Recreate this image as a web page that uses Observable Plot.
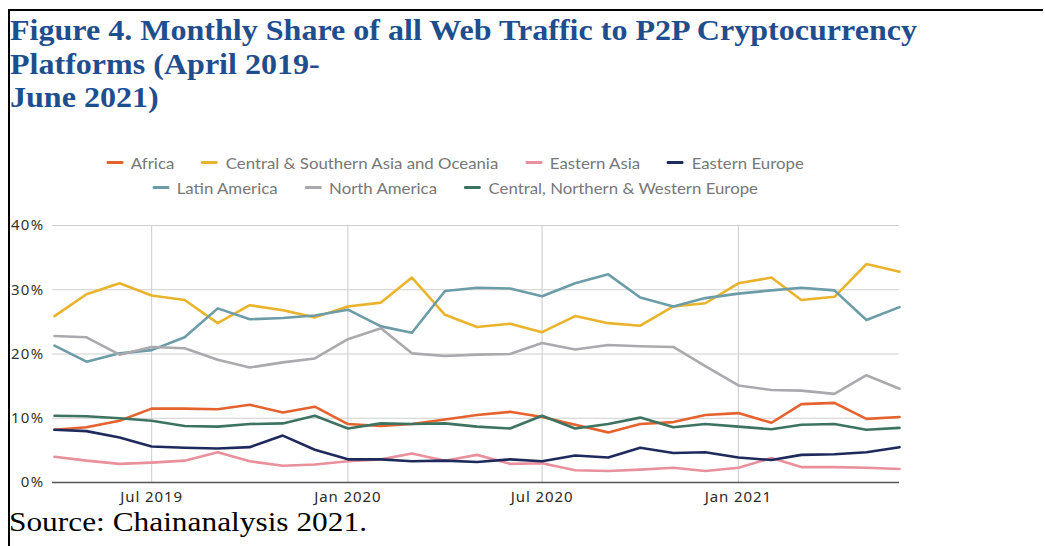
<!DOCTYPE html>
<html>
<head>
<meta charset="utf-8">
<script src="https://cdn.jsdelivr.net/npm/d3@7"></script>
<script src="https://cdn.jsdelivr.net/npm/@observablehq/plot@0.6"></script>
<style>
  html, body { margin: 0; padding: 0; background: #fff; }
  body { width: 1045px; height: 546px; position: relative; overflow: hidden; }
  #frame { position: absolute; left: 8px; top: 9px; right: 2px; bottom: -10px;
           border-top: 2px solid #000; border-left: 2px solid #000; }
  #title { position: absolute; left: 10px; top: 14px; margin: 0; white-space: nowrap;
           font-family: "Liberation Serif", "Times New Roman", serif; font-weight: bold;
           font-size: 29px; line-height: 33.5px; color: #1f4e8f;
           transform: scaleX(1.105); transform-origin: 0 0; }
  #legend { position: absolute; left: 0; top: 150px; width: 910px;
            font-family: Lato, "Noto Sans", sans-serif; font-size: 15px; color: #777; }
  .lrow { display: flex; justify-content: center; gap: 24px; height: 25px; align-items: center;
          transform: scaleX(1.12); transform-origin: 455px 50%; }
  .litem { display: flex; align-items: center; gap: 7px; white-space: nowrap; }
  .sw { width: 15px; height: 3px; border-radius: 1px; }
  #chart { position: absolute; left: 0; top: 200px; }
  #source { position: absolute; left: 9px; top: 506px; margin: 0; white-space: nowrap;
            font-family: "Liberation Serif", "Times New Roman", serif; font-size: 28px; color: #000;
            transform: scaleX(1.12); transform-origin: 0 0; }
</style>
</head>
<body>
<div id="frame"></div>
<div id="title">Figure 4. Monthly Share of all Web Traffic to P2P Cryptocurrency<br>Platforms (April 2019-<br>June 2021)</div>
<div id="legend"></div>
<div id="chart"></div>
<div id="source">Source: Chainanalysis 2021.</div>
<script>
const months = ["2019-04","2019-05","2019-06","2019-07","2019-08","2019-09","2019-10","2019-11","2019-12",
  "2020-01","2020-02","2020-03","2020-04","2020-05","2020-06","2020-07","2020-08","2020-09","2020-10","2020-11","2020-12",
  "2021-01","2021-02","2021-03","2021-04","2021-05","2021-06"];

const seriesNames = ["Africa", "Central & Southern Asia and Oceania", "Eastern Asia", "Eastern Europe",
  "Latin America", "North America", "Central, Northern & Western Europe"];
const seriesColors = ["#e4622d", "#eab32c", "#e8909c", "#1f2a5c", "#6b9ca7", "#a9a9ae", "#3d7361"];

const africa = [8.2, 8.6, 9.6, 11.5, 11.5, 11.4, 12.1, 10.9, 11.8, 9.1, 8.8, 9.1, 9.8, 10.5, 11.0, 10.2, 9.0, 7.8, 9.1, 9.4, 10.5, 10.8, 9.3, 12.2, 12.4, 9.9, 10.2];
const centralSouthernAsia = [25.9, 29.3, 31.0, 29.1, 28.4, 24.8, 27.6, 26.8, 25.7, 27.4, 28.0, 31.9, 26.1, 24.2, 24.7, 23.4, 25.9, 24.8, 24.4, 27.4, 27.9, 31.0, 31.9, 28.4, 28.9, 34.0, 32.8];
const easternAsia = [4.0, 3.4, 2.9, 3.1, 3.4, 4.7, 3.3, 2.6, 2.8, 3.3, 3.6, 4.5, 3.4, 4.3, 2.9, 3.0, 1.9, 1.8, 2.0, 2.3, 1.8, 2.3, 3.8, 2.4, 2.4, 2.3, 2.1];
const easternEurope = [8.2, 8.0, 7.0, 5.6, 5.4, 5.3, 5.5, 7.3, 5.1, 3.6, 3.6, 3.3, 3.4, 3.2, 3.6, 3.3, 4.2, 3.9, 5.4, 4.6, 4.7, 3.9, 3.5, 4.3, 4.4, 4.7, 5.5];
const latinAmerica = [21.3, 18.8, 20.1, 20.6, 22.6, 27.1, 25.4, 25.6, 26.0, 26.9, 24.3, 23.3, 29.8, 30.3, 30.2, 29.0, 31.0, 32.4, 28.8, 27.4, 28.7, 29.4, 29.9, 30.3, 29.9, 25.3, 27.3];
const northAmerica = [22.8, 22.6, 19.9, 21.1, 20.9, 19.1, 17.9, 18.7, 19.3, 22.3, 24.0, 20.1, 19.7, 19.9, 20.0, 21.7, 20.7, 21.4, 21.2, 21.1, 18.1, 15.1, 14.4, 14.3, 13.8, 16.7, 14.6];
const cnwEurope = [10.4, 10.3, 10.0, 9.6, 8.8, 8.7, 9.1, 9.2, 10.4, 8.4, 9.2, 9.1, 9.2, 8.7, 8.4, 10.4, 8.4, 9.1, 10.1, 8.6, 9.1, 8.7, 8.3, 9.0, 9.1, 8.2, 8.5];

const seriesValues = [africa, centralSouthernAsia, easternAsia, easternEurope, latinAmerica, northAmerica, cnwEurope];

const xTicks = ["2019-07", "2020-01", "2020-07", "2021-01"];
const xTickLabels = ["Jul 2019", "Jan 2020", "Jul 2020", "Jan 2021"];
const yTicks = [0, 10, 20, 30, 40];

const parse = d3.utcParse("%Y-%m");
const data = [];
seriesNames.forEach((name, i) => {
  seriesValues[i].forEach((v, j) => data.push({series: name, date: parse(months[j]), value: v}));
});
const tickDates = xTicks.map(parse);
const labelOf = new Map(xTicks.map((t, i) => [+parse(t), xTickLabels[i]]));

// legend
const legend = document.getElementById("legend");
const rows = [[0, 1, 2, 3], [4, 5, 6]];
rows.forEach(r => {
  const row = document.createElement("div");
  row.className = "lrow";
  r.forEach(i => {
    const it = document.createElement("div");
    it.className = "litem";
    const sw = document.createElement("span");
    sw.className = "sw";
    sw.style.background = seriesColors[i];
    const tx = document.createElement("span");
    tx.textContent = seriesNames[i];
    it.appendChild(sw); it.appendChild(tx);
    row.appendChild(it);
  });
  legend.appendChild(row);
});

const chart = Plot.plot({
  width: 1045,
  height: 310,
  marginLeft: 54,
  marginRight: 146,
  marginTop: 25,
  marginBottom: 28,
  style: {background: "transparent"},
  x: {type: "utc", domain: [parse(months[0]), parse(months[months.length - 1])]},
  y: {domain: [0, 40]},
  color: {domain: seriesNames, range: seriesColors},
  marks: [
    Plot.gridY(yTicks.slice(1), {stroke: "#cfcfcf", strokeOpacity: 1, strokeWidth: 1.2, insetLeft: -2}),
    Plot.gridX(tickDates, {stroke: "#d3d3d3", strokeOpacity: 1, strokeWidth: 1.2, y1: 0, y2: 40}),
    Plot.axisY(yTicks, {tickSize: 0, tickPadding: 10, fontSize: 15, fill: "#333", tickFormat: d => d + "%", label: null}),
    Plot.axisX(tickDates, {tickSize: 0, tickPadding: 9, fontSize: 15, fill: "#2a2a2a", tickFormat: d => labelOf.get(+d), label: null}),
    Plot.ruleY([0], {stroke: "#555", strokeWidth: 1.5, insetLeft: -2}),
    Plot.lineY(data, {x: "date", y: "value", stroke: "series", strokeWidth: 2.6, z: "series"})
  ]
});
chart.querySelectorAll('[aria-label="y-axis tick label"] text').forEach(t => t.style.letterSpacing = "1.3px");
chart.querySelectorAll('[aria-label="x-axis tick label"] text').forEach(t => t.style.letterSpacing = "0.9px");
document.getElementById("chart").appendChild(chart);
</script>
</body>
</html>
